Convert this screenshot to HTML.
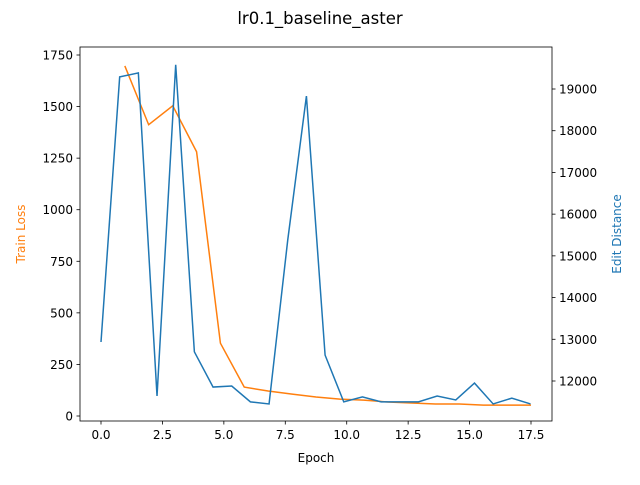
<!DOCTYPE html>
<html><head><meta charset="utf-8"><style>
body{margin:0;background:#fff}
svg{font-family:"DejaVu Sans","Liberation Sans",sans-serif}
</style></head><body>
<svg id="chart" width="640" height="480"></svg>
<script>
const epochsLoss=[0.97,1.94,2.92,3.89,4.86,5.83,6.8,7.78,8.75,9.72,10.69,11.67,12.64,13.61,14.58,15.56,16.53,17.5];
const trainLoss=[1697,1412,1504,1281,353,140,121,106,92,82,77,68,63,58,58,53,53,53];
const epochsEdit=[0,0.76,1.52,2.28,3.04,3.8,4.56,5.32,6.08,6.84,7.6,8.36,9.12,9.88,10.64,11.4,12.16,12.92,13.68,14.44,15.2,15.96,16.72,17.48];
const editDist=[12935,19290,19385,11640,19580,12700,11855,11880,11500,11450,15380,18830,12620,11500,11620,11500,11500,11500,11640,11545,11950,11450,11590,11450];
const xTicks=[0,2.5,5,7.5,10,12.5,15,17.5];
const xTickLabels=["0.0","2.5","5.0","7.5","10.0","12.5","15.0","17.5"];
const lTicks=[0,250,500,750,1000,1250,1500,1750];
const rTicks=[12000,13000,14000,15000,16000,17000,18000,19000];

const NS="http://www.w3.org/2000/svg";
const svg=document.getElementById('chart');
const L=80,R=552,T=47,B=421;
const xs=v=>101+v*(531-101)/17.5;
const yl=v=>416-v*(416-55)/1750;
const yr=v=>381-(v-12000)*(381-89)/7000;
function mk(tag,attrs,parent){const e=document.createElementNS(NS,tag);for(const k in attrs)e.setAttribute(k,attrs[k]);(parent||svg).appendChild(e);return e;}
function txt(s,attrs){const e=mk('text',attrs);e.textContent=s;return e;}

const t=txt('lr0.1_baseline_aster',{x:320,y:24,'font-size':16.5,'text-anchor':'middle',fill:'#000'});



let p=epochsLoss.map((e,i)=>xs(e)+','+yl(trainLoss[i])).join(' ');
const lossLine=mk('polyline',{points:p,fill:'none',stroke:'#ff7f0e','stroke-width':1.5});


p=epochsEdit.map((e,i)=>xs(e)+','+yr(editDist[i])).join(' ');
const editLine=mk('polyline',{points:p,fill:'none',stroke:'#1f77b4','stroke-width':1.5});



const frame=mk('rect',{x:L,y:T,width:R-L,height:B-T,fill:'none',stroke:'#000','stroke-width':0.8});



xTicks.forEach((v,i)=>{
  mk('line',{x1:xs(v),x2:xs(v),y1:B,y2:B+3.5,stroke:'#000','stroke-width':0.8});
  const e=txt(xTickLabels[i],{x:xs(v),y:B+18,'font-size':12,'text-anchor':'middle'});
  
  
});
lTicks.forEach(v=>{
  mk('line',{x1:L,x2:L-3.5,y1:yl(v),y2:yl(v),stroke:'#000','stroke-width':0.8});
  const e=txt(String(v),{x:L-7,y:yl(v)+4.5,'font-size':12,'text-anchor':'end'});
  
  
});
rTicks.forEach(v=>{
  mk('line',{x1:R,x2:R+3.5,y1:yr(v),y2:yr(v),stroke:'#000','stroke-width':0.8});
  const e=txt(String(v),{x:R+7,y:yr(v)+4.5,'font-size':12,'text-anchor':'start'});
  
  
});
const xl=txt('Epoch',{x:316,y:462,'font-size':12,'text-anchor':'middle'});


const ll=txt('Train Loss',{x:0,y:0,'font-size':12,'text-anchor':'middle',fill:'#ff7f0e',transform:'translate(25,234) rotate(-90)'});


const rl=txt('Edit Distance',{x:0,y:0,'font-size':12,'text-anchor':'middle',fill:'#1f77b4',transform:'translate(621,234) rotate(-90)'});


</script>
</body></html>
